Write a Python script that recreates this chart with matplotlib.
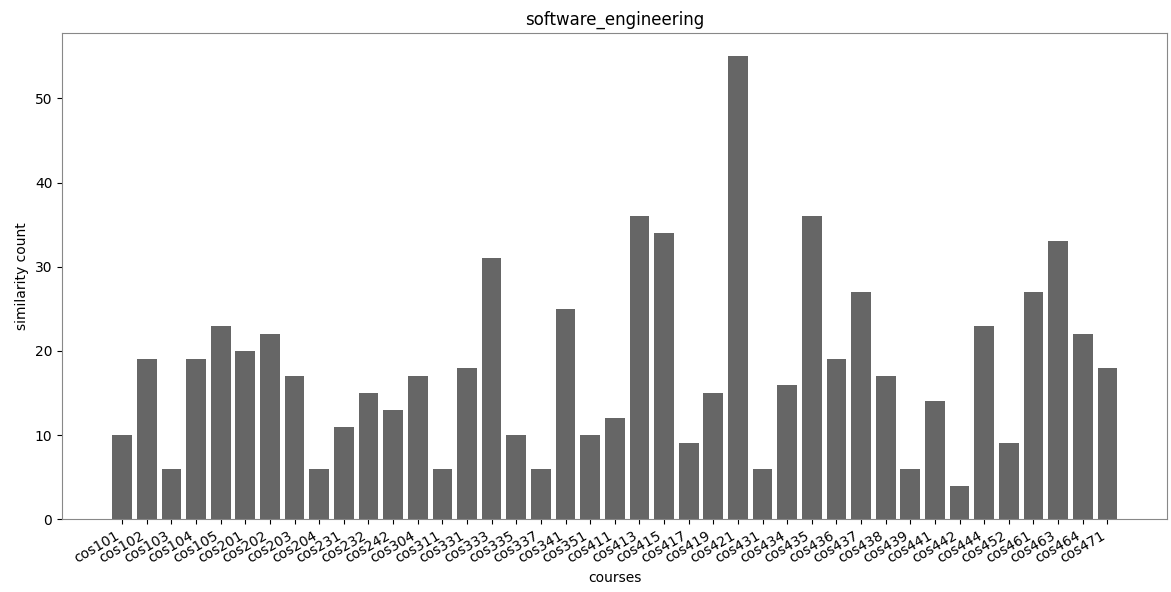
import matplotlib
matplotlib.use("Agg")
import matplotlib.pyplot as plt

courses = ["cos101", "cos102", "cos103", "cos104", "cos105", "cos201", "cos202",
           "cos203", "cos204", "cos231", "cos232", "cos242", "cos304", "cos311",
           "cos331", "cos333", "cos335", "cos337", "cos341", "cos351", "cos411",
           "cos413", "cos415", "cos417", "cos419", "cos421", "cos431", "cos434",
           "cos435", "cos436", "cos437", "cos438", "cos439", "cos441", "cos442",
           "cos444", "cos452", "cos461", "cos463", "cos464", "cos471"]
counts = [10, 19, 6, 19, 23, 20, 22, 17, 6, 11, 15, 13, 17, 6, 18, 31, 10, 6, 25,
          10, 12, 36, 34, 9, 15, 55, 6, 16, 36, 19, 27, 17, 6, 14, 4, 23, 9, 27,
          33, 22, 18]

fig, ax = plt.subplots(figsize=(11.71, 5.92), dpi=100)
ax.bar(courses, counts, color="#666666")
ax.set_title("software_engineering")
ax.set_xlabel("courses")
ax.set_ylabel("similarity count")
plt.setp(ax.get_xticklabels(), rotation=30, ha="right")
for s in ax.spines.values():
    s.set_color("#888888")
fig.subplots_adjust(left=0.053, right=0.997, top=0.944, bottom=0.123)
fig.savefig("out.png")
